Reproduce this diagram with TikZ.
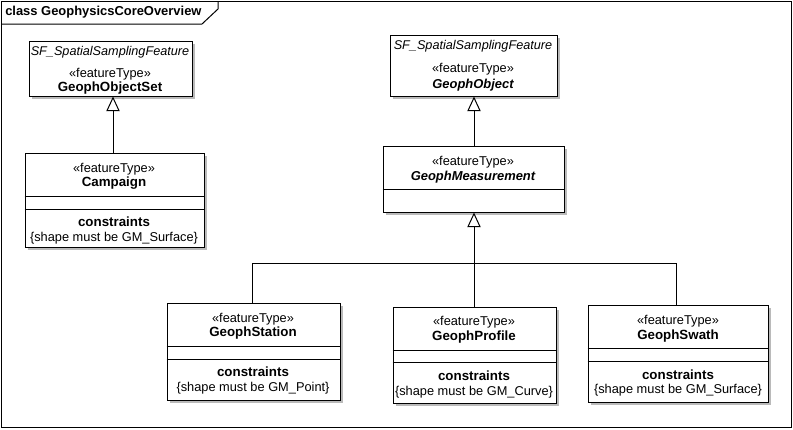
\documentclass[tikz,border=0pt]{standalone}
\usepackage{fontspec}
\setmainfont{Liberation Sans}
\usetikzlibrary{arrows.meta,fit,shadows}
\begin{document}
\begin{tikzpicture}[x=0.75pt,y=-0.75pt,
  every node/.style={font=\fontsize{9.6}{12}\selectfont, inner sep=0pt},
  umlbox/.style={draw=black, line width=0.75pt, fill=white, inner sep=0pt,
    drop shadow={shadow xshift=2.5pt, shadow yshift=-2.5pt, fill=black!45, opacity=0.6}},
  gen/.style={line width=0.75pt, -{Triangle[open, length=11pt, width=10pt, fill=white]}},
  conn/.style={line width=0.75pt},
  sep/.style={line width=0.75pt},
  lbl/.style={anchor=center},
  bname/.style={anchor=center, font=\fontsize{10}{12}\selectfont\bfseries},
  iname/.style={anchor=center, font=\fontsize{9.7}{12}\selectfont\bfseries\itshape},
  sfname/.style={anchor=center, font=\fontsize{9.5}{12}\selectfont\itshape}
]
\useasboundingbox (0,0) rectangle (793,429);
% frame
\draw[line width=0.75pt] (1,1) rectangle (791,427);
\draw[line width=0.75pt] (1,24) -- (202,24) -- (218,9) -- (218,1);
\node[anchor=west, font=\fontsize{9.7}{11}\selectfont\bfseries] (title) at (5,12) {class GeophysicsCoreOverview};

% boxes
\node[umlbox, fit={(29,41) (192,96)}] (OS) {};
\node[umlbox, fit={(25,153) (204,247)}] (Camp) {};
\node[umlbox, fit={(390,35) (557,96)}] (Obj) {};
\node[umlbox, fit={(383,146) (564,212)}] (Meas) {};
\node[umlbox, fit={(167,303) (340,400)}] (Stat) {};
\node[umlbox, fit={(393,307) (556,403)}] (Prof) {};
\node[umlbox, fit={(588,305) (768,402)}] (Swath) {};

% compartments
\draw[sep] (Camp.west |- 0,196) -- (Camp.east |- 0,196);
\draw[sep] (Camp.west |- 0,209) -- (Camp.east |- 0,209);
\draw[sep] (Meas.west |- 0,189) -- (Meas.east |- 0,189);
\draw[sep] (Stat.west |- 0,346) -- (Stat.east |- 0,346);
\draw[sep] (Stat.west |- 0,359) -- (Stat.east |- 0,359);
\draw[sep] (Prof.west |- 0,350) -- (Prof.east |- 0,350);
\draw[sep] (Prof.west |- 0,362) -- (Prof.east |- 0,362);
\draw[sep] (Swath.west |- 0,348) -- (Swath.east |- 0,348);
\draw[sep] (Swath.west |- 0,361) -- (Swath.east |- 0,361);

% texts
\node[sfname] (OSsf) at (110,52) {SF\_SpatialSamplingFeature};
\node[lbl] (OSst) at (110,74) {«featureType»};
\node[bname] (OSn) at (110,88) {GeophObjectSet};

\node[lbl] (Campst) at (114,169) {«featureType»};
\node[bname] (Campn) at (114,183) {Campaign};
\node[bname] (Campc) at (114,222) {constraints};
\node[lbl] (Campk) at (114,238) {\{shape must be GM\_Surface\}};

\node[sfname] (Objsf) at (473,46) {SF\_SpatialSamplingFeature};
\node[lbl] (Objst) at (473,69) {«featureType»};
\node[iname] (Objn) at (473,85) {GeophObject};

\node[lbl] (Measst) at (473,162) {«featureType»};
\node[iname] (Measn) at (473,177) {GeophMeasurement};

\node[lbl] (Statst) at (253,319) {«featureType»};
\node[bname] (Statn) at (253,333) {GeophStation};
\node[bname] (Statc) at (253,372) {constraints};
\node[lbl] (Statk) at (253,388) {\{shape must be GM\_Point\}};

\node[lbl] (Profst) at (474,322) {«featureType»};
\node[bname] (Profn) at (474,337) {GeophProfile};
\node[bname] (Profc) at (474,376) {constraints};
\node[lbl] (Profk) at (474,392) {\{shape must be GM\_Curve\}};

\node[lbl] (Swathst) at (678,321) {«featureType»};
\node[bname] (Swathn) at (678,336) {GeophSwath};
\node[bname] (Swathc) at (678,375) {constraints};
\node[lbl] (Swathk) at (678,390) {\{shape must be GM\_Surface\}};

% connectors
\coordinate (cA) at (113,0);
\draw[gen] (Camp.north -| cA) -- (cA |- OS.south);
\coordinate (cB) at (474,0);
\draw[gen] (Meas.north -| cB) -- (cB |- Obj.south);
\coordinate (j) at (474,263);
\coordinate (cS) at (252,0);
\coordinate (cW) at (676,0);
\draw[conn] (Stat.north -| cS) |- (j);
\draw[conn] (Swath.north -| cW) |- (j);
\draw[gen] (Prof.north -| cB) -- (cB |- Meas.south);
\end{tikzpicture}
\end{document}
